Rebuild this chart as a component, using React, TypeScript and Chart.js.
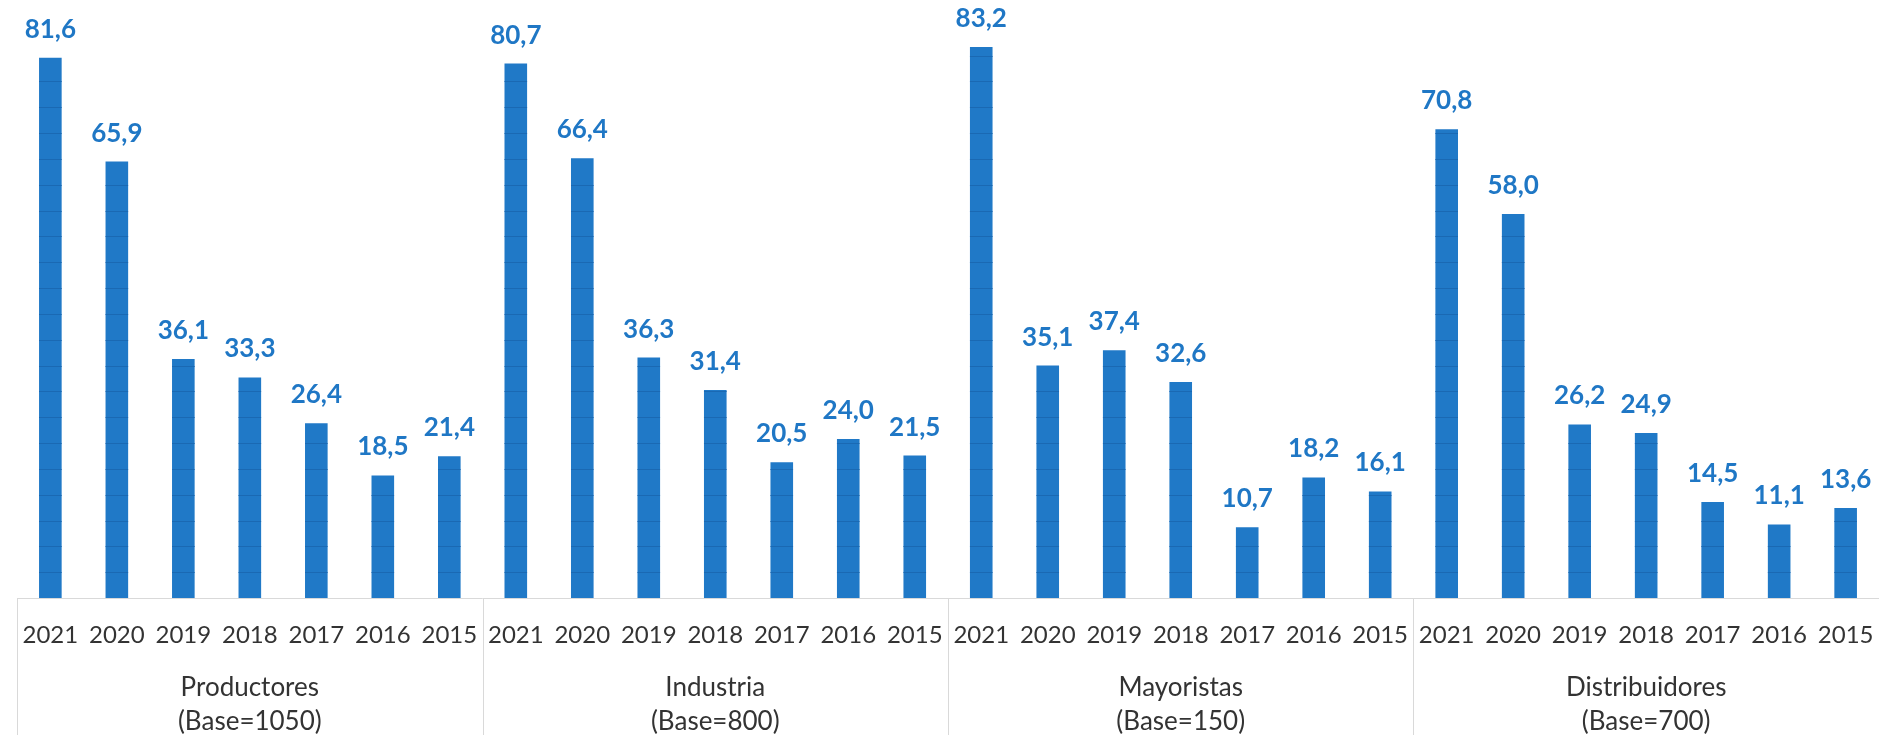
import React, { useEffect, useRef } from "react";
import { Chart, registerables } from "chart.js";

Chart.register(...registerables);

const years = ["2021", "2020", "2019", "2018", "2017", "2016", "2015"];
const groups = [
  ["Productores", "(Base=1050)"],
  ["Industria", "(Base=800)"],
  ["Mayoristas", "(Base=150)"],
  ["Distribuidores", "(Base=700)"],
];
const productores = [81.6, 65.9, 36.1, 33.3, 26.4, 18.5, 21.4];
const industria = [80.7, 66.4, 36.3, 31.4, 20.5, 24.0, 21.5];
const mayoristas = [83.2, 35.1, 37.4, 32.6, 10.7, 18.2, 16.1];
const distribuidores = [70.8, 58.0, 26.2, 24.9, 14.5, 11.1, 13.6];

const labels = [...years, ...years, ...years, ...years];
const values = [...productores, ...industria, ...mayoristas, ...distribuidores];

const FONT = "Lato, 'Open Sans', sans-serif";
const BAR = "#2079C7";
const STRIPE = "#1A69B3";
const VALUE_COLOR = "#1F77C5";
const TEXT = "#333333";
const SEP = "#D9D9D9";

const decorPlugin = {
  id: "decor",
  afterDatasetsDraw(chart: any) {
    const ctx = chart.ctx;
    const meta = chart.getDatasetMeta(0);
    const yS = chart.scales.y;
    ctx.save();
    ctx.strokeStyle = STRIPE;
    ctx.lineWidth = 1;
    meta.data.forEach((bar: any) => {
      const left = bar.x - bar.width / 2;
      const right = bar.x + bar.width / 2;
      for (let k = 1; k < 30; k++) {
        const yy = yS.getPixelForValue(k * 3.9);
        if (yy <= bar.y + 1) break;
        ctx.beginPath();
        ctx.moveTo(left, Math.round(yy) + 0.5);
        ctx.lineTo(right, Math.round(yy) + 0.5);
        ctx.stroke();
      }
    });
    ctx.fillStyle = VALUE_COLOR;
    ctx.font = `bold 26px ${FONT}`;
    ctx.textAlign = "center";
    ctx.textBaseline = "alphabetic";
    meta.data.forEach((bar: any, i: number) => {
      ctx.fillText(values[i].toFixed(1).replace(".", ","), bar.x, bar.y - 20);
    });
    ctx.restore();
  },
  afterDraw(chart: any) {
    const ctx = chart.ctx;
    const xS = chart.scales.x;
    const area = chart.chartArea;
    const H = chart.height;
    ctx.save();
    ctx.strokeStyle = SEP;
    ctx.lineWidth = 1;
    const step = xS.getPixelForValue(1) - xS.getPixelForValue(0);
    for (let g = 0; g < groups.length; g++) {
      const idx = g * years.length;
      const xx = g === 0 ? area.left : xS.getPixelForValue(idx) - step / 2;
      ctx.beginPath();
      ctx.moveTo(Math.round(xx) + 0.5, area.bottom);
      ctx.lineTo(Math.round(xx) + 0.5, H);
      ctx.stroke();
    }
    ctx.fillStyle = TEXT;
    ctx.font = `26px ${FONT}`;
    ctx.textAlign = "center";
    ctx.textBaseline = "middle";
    groups.forEach((gl, g) => {
      const a = xS.getPixelForValue(g * years.length);
      const b = xS.getPixelForValue(g * years.length + years.length - 1);
      const cx = (a + b) / 2;
      ctx.fillText(gl[0], cx, area.bottom + 90);
      ctx.fillText(gl[1], cx, area.bottom + 124);
    });
    ctx.restore();
  },
};

export default function App() {
  const ref = useRef<HTMLCanvasElement | null>(null);
  useEffect(() => {
    document.body.style.margin = "0";
    const chart = new Chart(ref.current as HTMLCanvasElement, {
      type: "bar",
      data: {
        labels,
        datasets: [
          {
            data: values,
            backgroundColor: BAR,
            borderWidth: 0,
            barPercentage: 0.34,
            categoryPercentage: 1,
          },
        ],
      },
      options: {
        animation: false,
        responsive: false,
        maintainAspectRatio: false,
        layout: { padding: { left: 12, right: 0, top: 2, bottom: 63 } },
        plugins: { legend: { display: false }, tooltip: { enabled: false } },
        scales: {
          x: {
            grid: { display: false, drawTicks: false },
            border: { display: true, color: SEP, width: 1 },
            ticks: {
              color: TEXT,
              font: { family: FONT, size: 24 },
              padding: 22.6,
              maxRotation: 0,
              autoSkip: false,
            },
          },
          y: {
            display: false,
            min: 0,
            max: 90,
          },
        },
      },
      plugins: [decorPlugin],
    });
    return () => chart.destroy();
  }, []);
  return (
    <div style={{ position: "absolute", left: 0, top: 0, width: 1896, height: 735 }}>
      <canvas ref={ref} width={1896} height={735} style={{ width: 1896, height: 735 }} />
    </div>
  );
}
